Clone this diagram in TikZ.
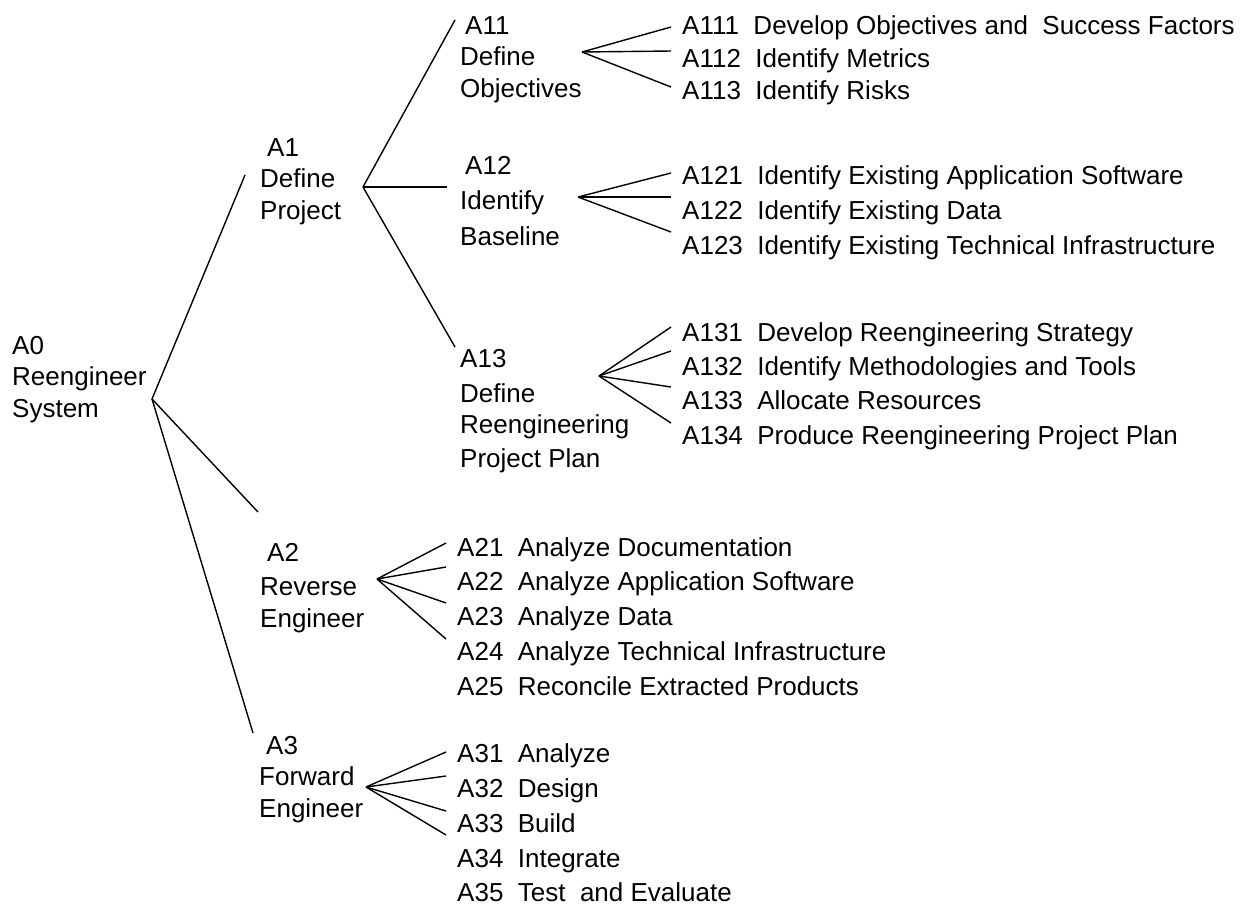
\documentclass[tikz,border=0pt]{standalone}
\usepackage{fontspec}
\setmainfont{Liberation Sans}
\tikzset{
	proc/.style={align=left, anchor=base west, inner sep=0pt, font=\fontsize{26}{31.5}\selectfont},
	task/.style={anchor=base west, inner xsep=11pt, inner ysep=0pt, font=\fontsize{26}{31.5}\selectfont},
	ast/.style={line width=1.4pt}
}
\begin{document}
\begin{tikzpicture}[x=1pt, y=-1pt]
\useasboundingbox (0,0) rectangle (1240,906);
% Hauptknoten
\node[proc] (a0) at (12,417) {A0\\Reengineer\\System};
\node[proc] (a1) at (260,219) {\hspace*{7pt}A1\\Define\\Project};
\node[proc] (a2) at (260,627) {\hspace*{7pt}A2\\[3pt]Reverse\\Engineer};
\node[proc] (a3) at (259,817) {\hspace*{7pt}A3\\Forward\\Engineer};
\node[proc] (a11) at (460,97) {\hspace*{5pt}A11\\Define\\Objectives};
\node[proc] (a12) at (460,245) {\hspace*{5pt}A12\\[4pt]Identify\\[4pt]Baseline};
\node[proc] (a13) at (460,467) {A13\\[3pt]Define\\Reengineering\\[2pt]Project Plan};
% Verzweigungspunkte
\coordinate (j0) at (152,399);
\coordinate (j1) at (363,187);
\coordinate (j2) at (377,579);
\coordinate (j3) at (366,787);
\coordinate (j11) at (582,52);
\coordinate (j12) at (578,197);
\coordinate (j13) at (599,376);
% Teilaufgaben
\foreach \n/\x/\y/\t in {
	a111/671/34/{A111\ \ Develop Objectives and\ \ Success Factors},
	a112/671/67/{A112\ \ Identify Metrics},
	a113/671/99/{A113\ \ Identify Risks},
	a121/671/184/{A121\ \ Identify Existing Application Software},
	a122/671/219/{A122\ \ Identify Existing Data},
	a123/671/254/{A123\ \ Identify Existing Technical Infrastructure},
	a131/671/341/{A131\ \ Develop Reengineering Strategy},
	a132/671/375/{A132\ \ Identify Methodologies and Tools},
	a133/671/409/{A133\ \ Allocate Resources},
	a134/671/444/{A134\ \ Produce Reengineering Project Plan},
	a21/446/556/{A21\ \ Analyze Documentation},
	a22/446/590/{A22\ \ Analyze Application Software},
	a23/446/625/{A23\ \ Analyze Data},
	a24/446/660/{A24\ \ Analyze Technical Infrastructure},
	a25/446/695/{A25\ \ Reconcile Extracted Products},
	a31/446/762/{A31\ \ Analyze},
	a32/446/797/{A32\ \ Design},
	a33/446/832/{A33\ \ Build},
	a34/446/867/{A34\ \ Integrate},
	a35/446/901/{A35\ \ Test\ \ and Evaluate}}
	\node[task] (\n) at (\x,\y) {\t};
% Verbindungen zu den Hauptknoten
\foreach \j/\n/\dx/\dy in {j0/a1/-15/44, j0/a2/-2/115, j0/a3/-6/84,
	j1/a11/-5/77, j1/a12/-13/58, j1/a13/-5/120}
	\draw[ast] (\j) -- ([xshift=\dx pt, yshift=\dy pt]\n.base west);
% Verbindungen zu den Teilaufgaben
\foreach \j/\n/\dy in {j11/a111/7, j11/a112/16, j11/a113/12,
	j12/a121/11, j12/a122/22, j12/a123/22,
	j13/a131/14, j13/a132/24, j13/a133/22, j13/a134/21,
	j2/a21/13, j2/a22/23, j2/a23/22, j2/a24/21,
	j3/a31/10, j3/a32/21, j3/a33/21, j3/a34/32}
	\draw[ast] (\j) -- ([yshift=\dy pt]\n.base west);
\end{tikzpicture}
\end{document}
